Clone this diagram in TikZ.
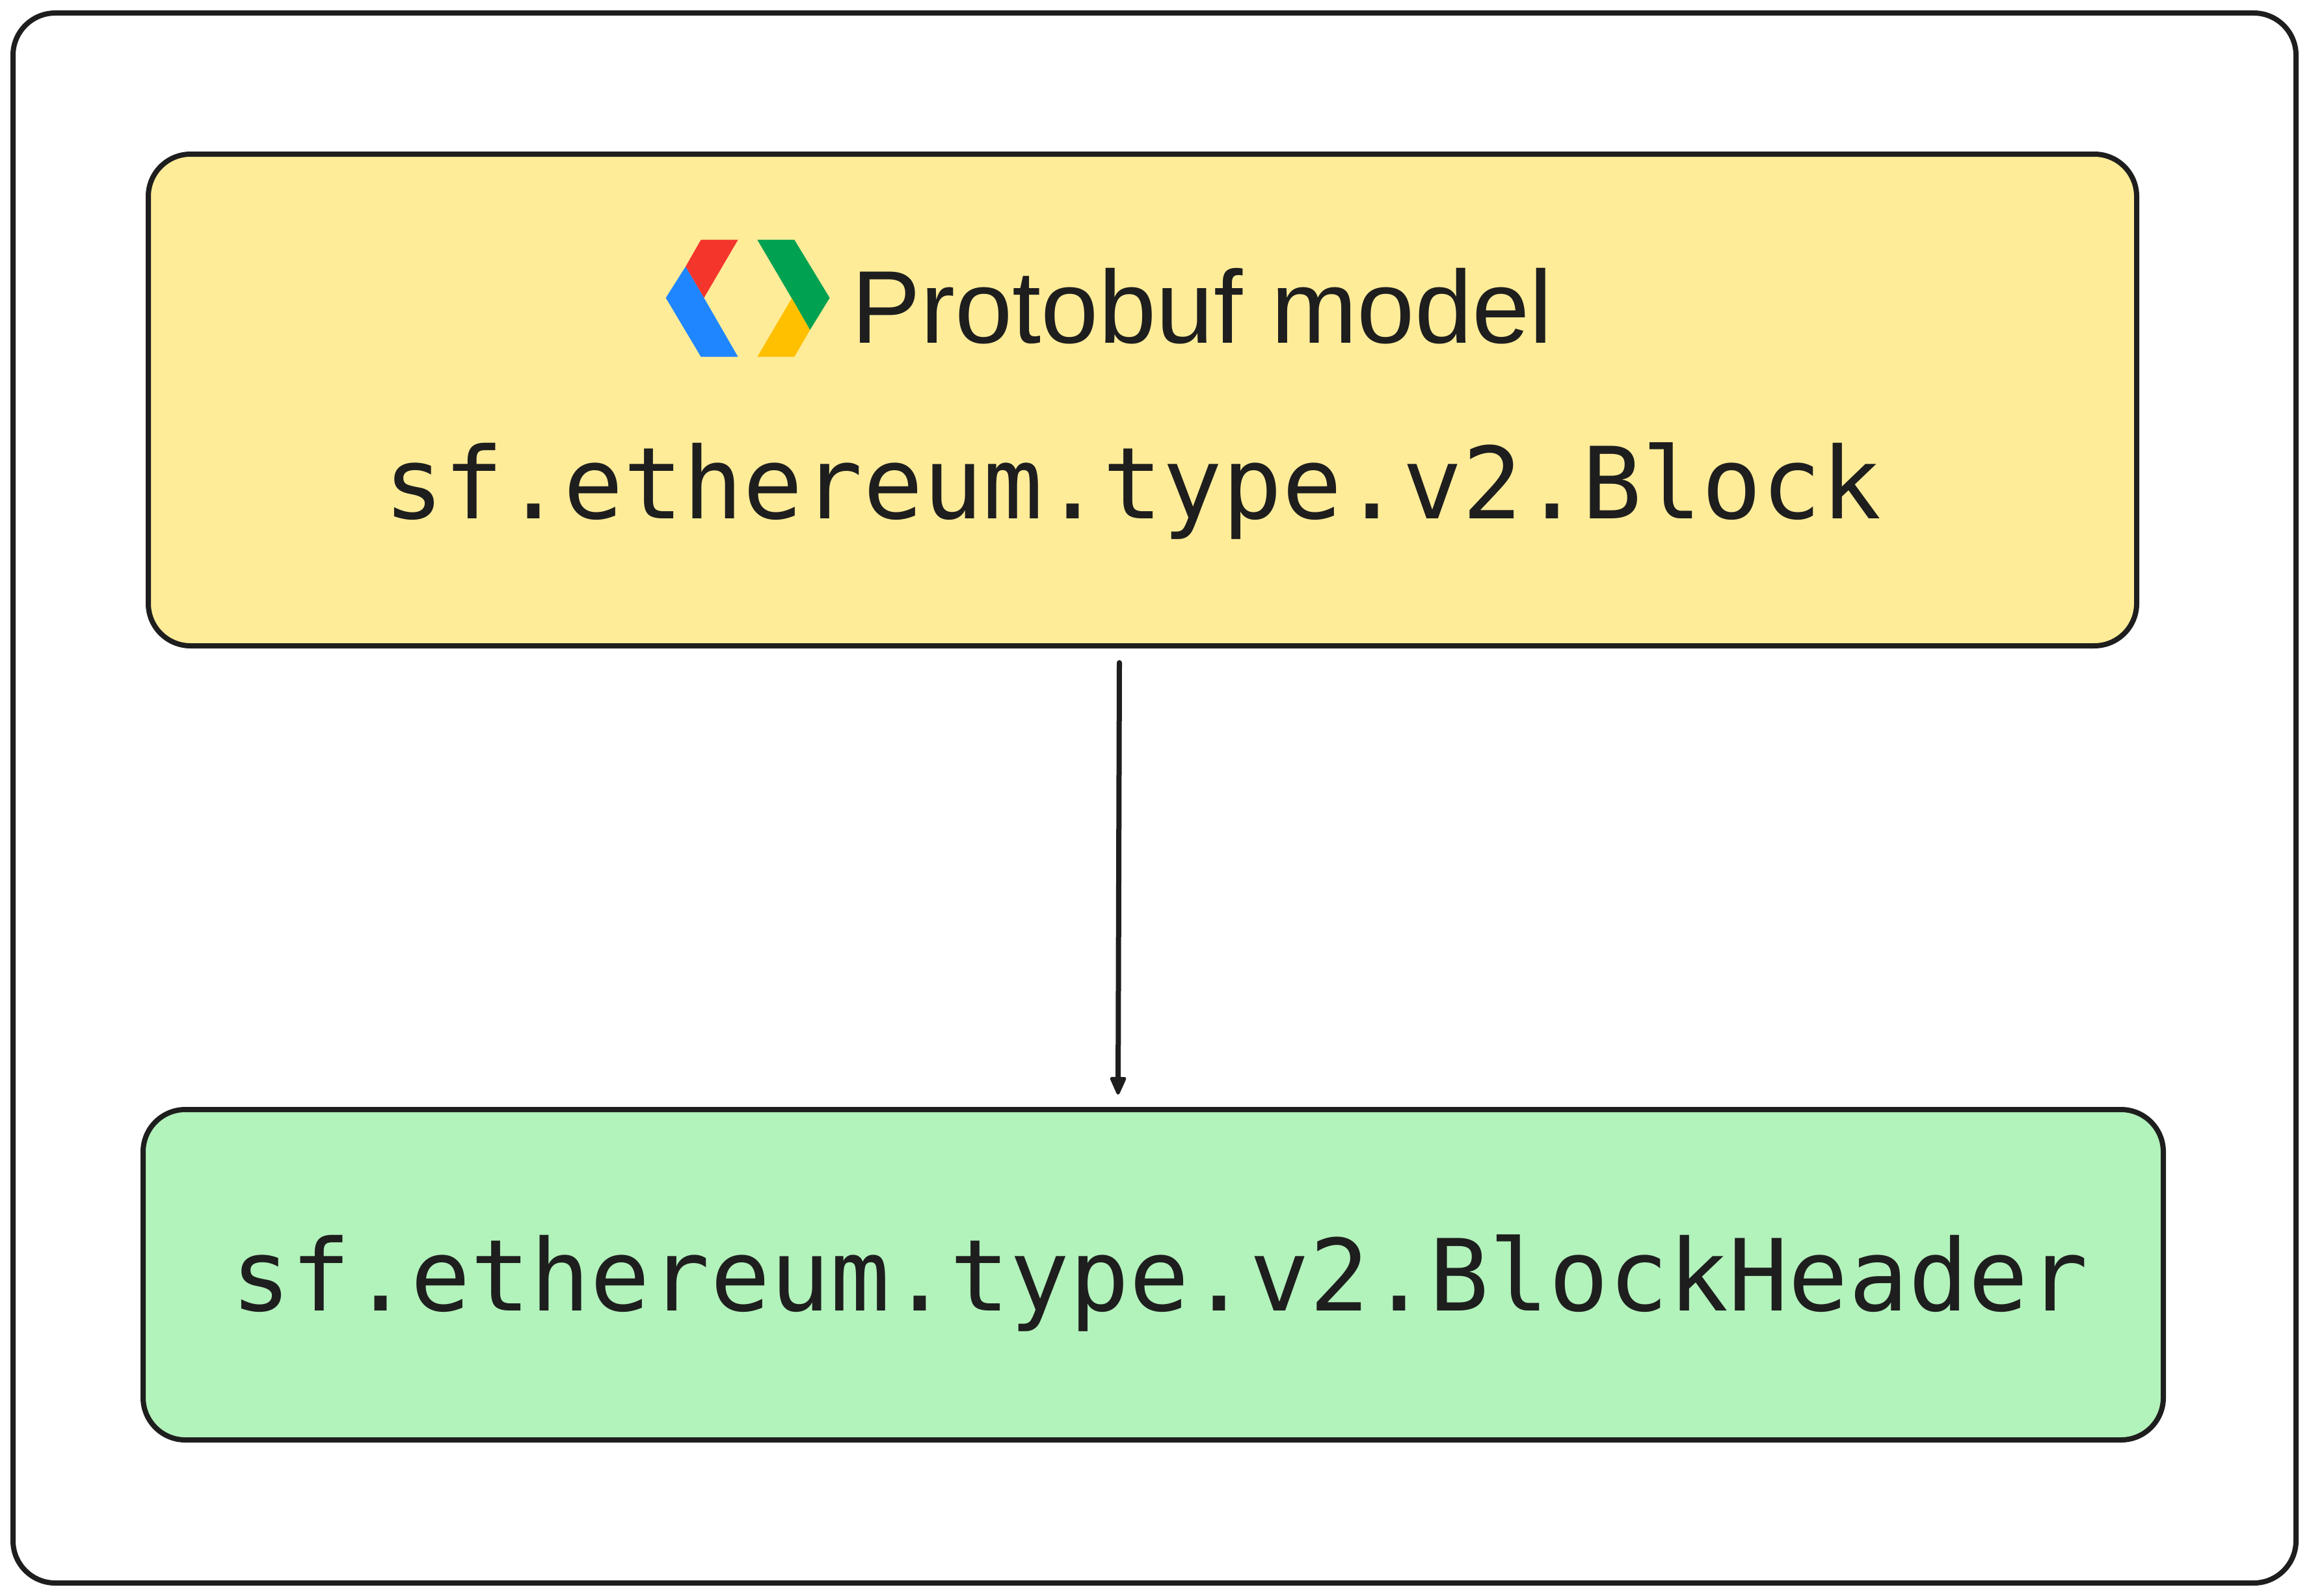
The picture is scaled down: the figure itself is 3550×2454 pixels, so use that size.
\documentclass[tikz,border=0pt]{standalone}
\usepackage{fontspec}
\setmainfont{Liberation Sans}
\newfontfamily\codefont{DejaVu Sans Mono}
\usetikzlibrary{arrows.meta}
\definecolor{ink}{HTML}{1E1E1E}
\definecolor{boxyellow}{HTML}{FFEC99}
\definecolor{boxgreen}{HTML}{B2F2BB}
\definecolor{logored}{HTML}{F4352C}
\definecolor{logoblue}{HTML}{2086FF}
\definecolor{logogreen}{HTML}{00A251}
\definecolor{logoyellow}{HTML}{FFC000}
\tikzset{
  panel/.style={draw=ink,line width=8pt,rounded corners=65pt,inner sep=0pt,outer sep=0pt,anchor=north west},
  codetext/.style={text=ink,inner sep=0pt,anchor=base west,font=\codefont\fontsize{153}{153}\selectfont},
  titletext/.style={text=ink,inner sep=0pt,anchor=base west,font=\fontsize{159}{159}\selectfont},
  conn/.style={draw=ink,line width=8pt,line cap=round,-{Triangle[length=31pt,width=26pt,line width=5pt,round]}},
}
\begin{document}
\begin{tikzpicture}[x=1pt,y=-1pt]
\useasboundingbox (0,0) rectangle (3550,2454);
\fill[white] (0,0) rectangle (3550,2454);
\node[panel,minimum width=3510pt,minimum height=2414pt] (outer) at (20,20) {};
\node[panel,fill=boxyellow,minimum width=3057pt,minimum height=756pt] (top) at (228,237) {};
\node[panel,fill=boxgreen,minimum width=3106pt,minimum height=508pt] (bottom) at (220,1706) {};
\begin{scope}[shift={(980,330)},x=0.3333pt,y=-0.3333pt]
\fill[logored] (293,116) -- (464,116) -- (307,384) -- (222,240) -- cycle;
\fill[logoblue] (222,240) -- (307,384) -- (464,656) -- (293,656) -- (131,384) -- cycle;
\fill[logogreen] (553,116) -- (724,116) -- (887,384) -- (796,532) -- (712,386) -- cycle;
\fill[logoyellow] (712,386) -- (796,532) -- (724,656) -- (553,656) -- cycle;
\end{scope}
\node[titletext] (title) at (1309,527) {Protobuf model};
\node[codetext] (blockname) at (590,797) {sf.ethereum.type.v2.Block};
\node[codetext] (headername) at (355,2015) {sf.ethereum.type.v2.BlockHeader};
\draw[conn] ([xshift=-35.5pt,yshift=-26pt]top.south) -- ([xshift=-54pt,yshift=23pt]bottom.north);
\end{tikzpicture}
\end{document}
